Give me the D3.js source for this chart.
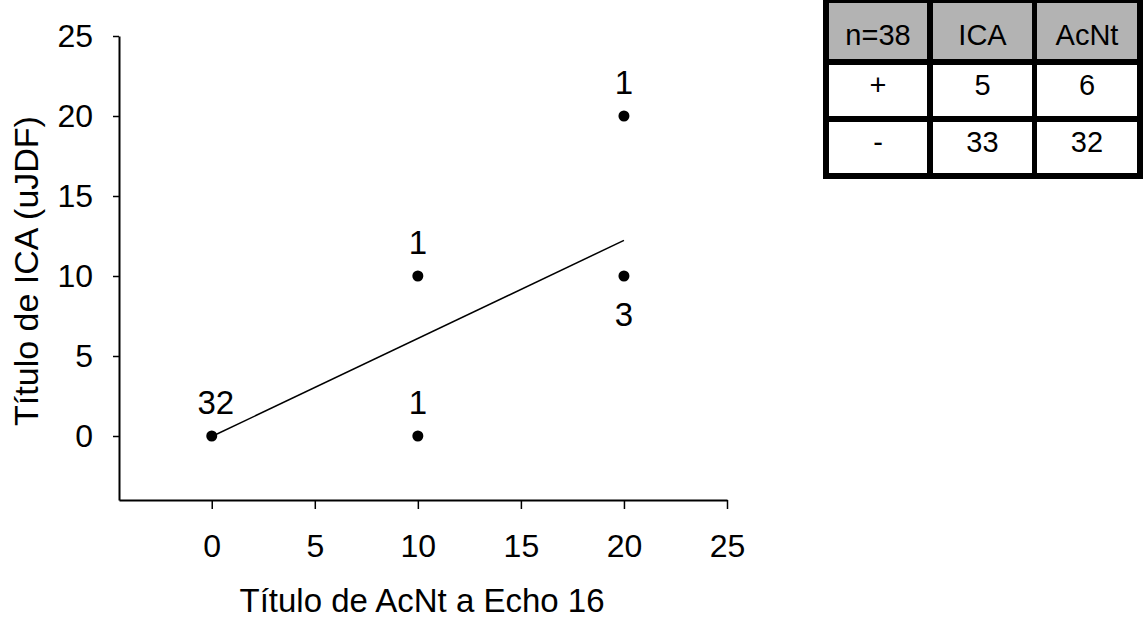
<!DOCTYPE html>
<html>
<head>
<meta charset="utf-8">
<script src="https://cdn.jsdelivr.net/npm/d3@7"></script>
<style>
  html, body { margin: 0; padding: 0; background: #fff; }
  svg { display: block; font-family: "Liberation Sans", Arial, sans-serif; }
</style>
</head>
<body>
<script>
// data
const xValues = [0, 10, 10, 20, 20];
const yValues = [0, 0, 10, 20, 10];
const counts = [32, 1, 1, 1, 3];
const labelSide = ["above", "above", "above", "above", "below"];
const xTicks = [0, 5, 10, 15, 20, 25];
const yTicks = [0, 5, 10, 15, 20, 25];
const xTitle = "Título de AcNt a Echo 16";
const yTitle = "Título de ICA (uJDF)";
const tableHeader = ["n=38", "ICA", "AcNt"];
const tableRowLabels = ["+", "-"];
const icaCounts = [5, 33];
const acntCounts = [6, 32];

const W = 1143, H = 621;
const FONT = '"Liberation Sans", Arial, sans-serif';

const svg = d3.select("body").append("svg")
  .attr("width", W)
  .attr("height", H);

const x = d3.scaleLinear().domain([-4.5, 25]).range([119, 727]);
const y = d3.scaleLinear().domain([-4, 25]).range([500, 36]);

// axes
const yAxis = svg.append("g")
  .attr("transform", `translate(${x.range()[0]},0)`)
  .call(d3.axisLeft(y).tickValues(yTicks).tickSize(6).tickSizeOuter(0).tickPadding(20));

const xAxis = svg.append("g")
  .attr("transform", `translate(0,${y.range()[0]})`)
  .call(d3.axisBottom(x).tickValues(xTicks).tickSize(9).tickSizeOuter(0).tickPadding(25));

[xAxis, yAxis].forEach(function (g) {
  g.select(".domain").attr("stroke", "#000").attr("stroke-width", 2);
  g.selectAll(".tick line").attr("stroke", "#000").attr("stroke-width", 1.5);
  g.selectAll(".tick text")
    .attr("fill", "#000")
    .style("font-family", FONT)
    .style("font-size", "32px");
});

// weighted least squares fit through the counted points
let n = d3.sum(counts);
let mx = d3.sum(xValues, (v, i) => v * counts[i]) / n;
let my = d3.sum(yValues, (v, i) => v * counts[i]) / n;
let sxx = d3.sum(xValues, (v, i) => counts[i] * (v - mx) * (v - mx));
let sxy = d3.sum(xValues, (v, i) => counts[i] * (v - mx) * (yValues[i] - my));
let slope = sxy / sxx;
let intercept = my - slope * mx;
const fitX = d3.extent(xValues);

svg.append("line")
  .attr("x1", x(fitX[0]))
  .attr("y1", y(intercept + slope * fitX[0]))
  .attr("x2", x(fitX[1]))
  .attr("y2", y(intercept + slope * fitX[1]))
  .attr("stroke", "#000")
  .attr("stroke-width", 1.5);

// points
svg.append("g").selectAll("circle")
  .data(xValues)
  .join("circle")
  .attr("cx", (d) => x(d))
  .attr("cy", (d, i) => y(yValues[i]))
  .attr("r", 5.5)
  .attr("fill", "#000");

// count labels
svg.append("g").selectAll("text")
  .data(counts)
  .join("text")
  .attr("x", (d, i) => x(xValues[i]) + (d > 9 ? 4 : 0))
  .attr("y", (d, i) => y(yValues[i]) + (labelSide[i] === "above" ? -22 : 50))
  .attr("text-anchor", "middle")
  .style("font-family", FONT)
  .style("font-size", "33px")
  .text((d) => d);

// axis titles
svg.append("text")
  .attr("x", 422)
  .attr("y", 612)
  .attr("text-anchor", "middle")
  .style("font-family", FONT)
  .style("font-size", "33px")
  .text(xTitle);

svg.append("text")
  .attr("transform", "translate(38,271) rotate(-90)")
  .attr("text-anchor", "middle")
  .style("font-family", FONT)
  .style("font-size", "34px")
  .text(yTitle);

// summary table
const tableRows = [tableHeader].concat(tableRowLabels.map((lab, i) => [lab, icaCounts[i], acntCounts[i]]));
const colX = [829, 933, 1037];
const colW = [98, 99, 100];
const rowY = [3, 65, 122];
const rowH = [56, 51, 51];

const table = svg.append("g");
table.append("rect")
  .attr("x", 823).attr("y", 0)
  .attr("width", 320).attr("height", 179)
  .attr("fill", "#000");

tableRows.forEach(function (row, r) {
  row.forEach(function (val, c) {
    table.append("rect")
      .attr("x", colX[c]).attr("y", rowY[r])
      .attr("width", colW[c]).attr("height", rowH[r])
      .attr("fill", r === 0 ? "#b3b3b3" : "#fff");
    table.append("text")
      .attr("x", colX[c] + colW[c] / 2)
      .attr("y", rowY[r] + (r === 0 ? 42 : 30))
      .attr("text-anchor", "middle")
      .style("font-family", FONT)
      .style("font-size", "29px")
      .text(val);
  });
});
</script>
</body>
</html>
